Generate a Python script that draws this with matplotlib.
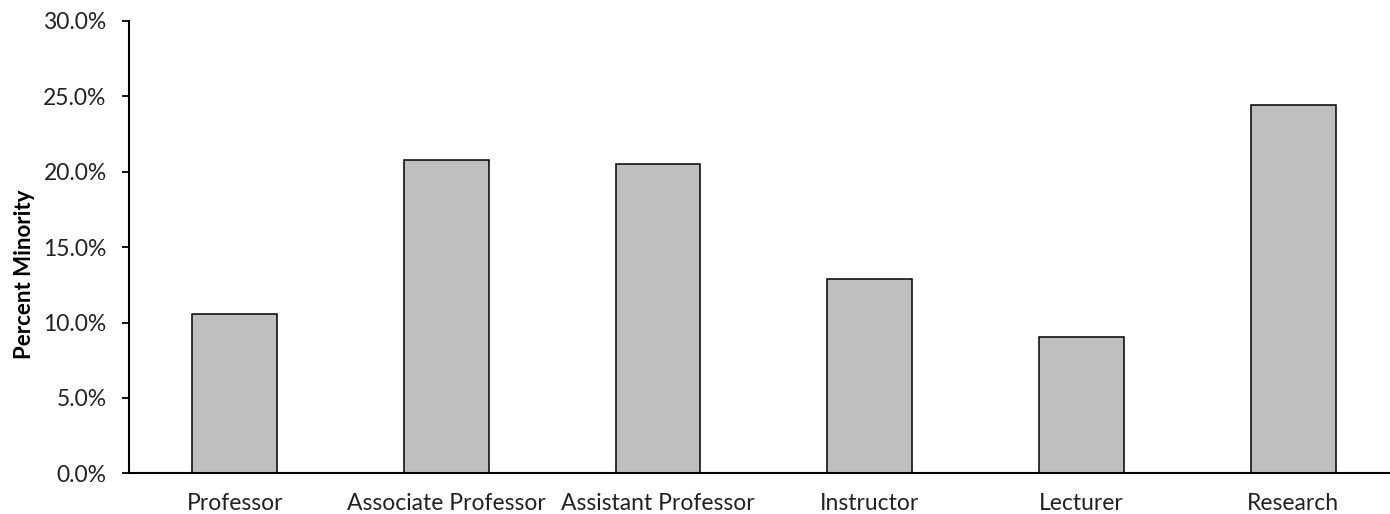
import matplotlib
matplotlib.use('Agg')
import matplotlib.pyplot as plt
from matplotlib.ticker import PercentFormatter

categories = ['Professor', 'Associate Professor', 'Assistant Professor', 'Instructor', 'Lecturer', 'Research']
pct_minority = [10.55, 20.8, 20.5, 12.9, 9.05, 24.4]
yticks = [0, 5, 10, 15, 20, 25, 30]

plt.rcParams['font.family'] = ['Lato', 'DejaVu Sans']

fig = plt.figure(figsize=(13.9, 5.14), dpi=100)
ax = fig.add_axes([0.0927, 0.0792, 1 - 0.0927, 0.88])
x = range(len(categories))
ax.bar(x, pct_minority, width=0.4, color='#bfbfbf', edgecolor='black', linewidth=1.1, zorder=2)
ax.set_xlim(-0.5, 5.457)
ax.set_ylim(0, 30)
ax.set_yticks(yticks)
ax.yaxis.set_major_formatter(PercentFormatter(decimals=1))
ax.set_xticks(list(x))
ax.set_xticklabels(categories)
ax.tick_params(axis='y', direction='out', length=5, width=1.3, pad=11, labelsize=16.5, colors='black')
ax.tick_params(axis='x', length=0, pad=14, labelsize=16.5)
for t in ax.get_xticklabels() + ax.get_yticklabels():
    t.set_color('#222222')
ax.spines['top'].set_visible(False)
ax.spines['right'].set_visible(False)
ax.spines['left'].set_linewidth(1.5)
ax.spines['bottom'].set_linewidth(1.5)
ax.set_ylabel('Percent Minority', fontsize=16, fontweight='bold', labelpad=6)
ax.yaxis.label.set_y(0.44)
fig.savefig('out.png', dpi=100)
